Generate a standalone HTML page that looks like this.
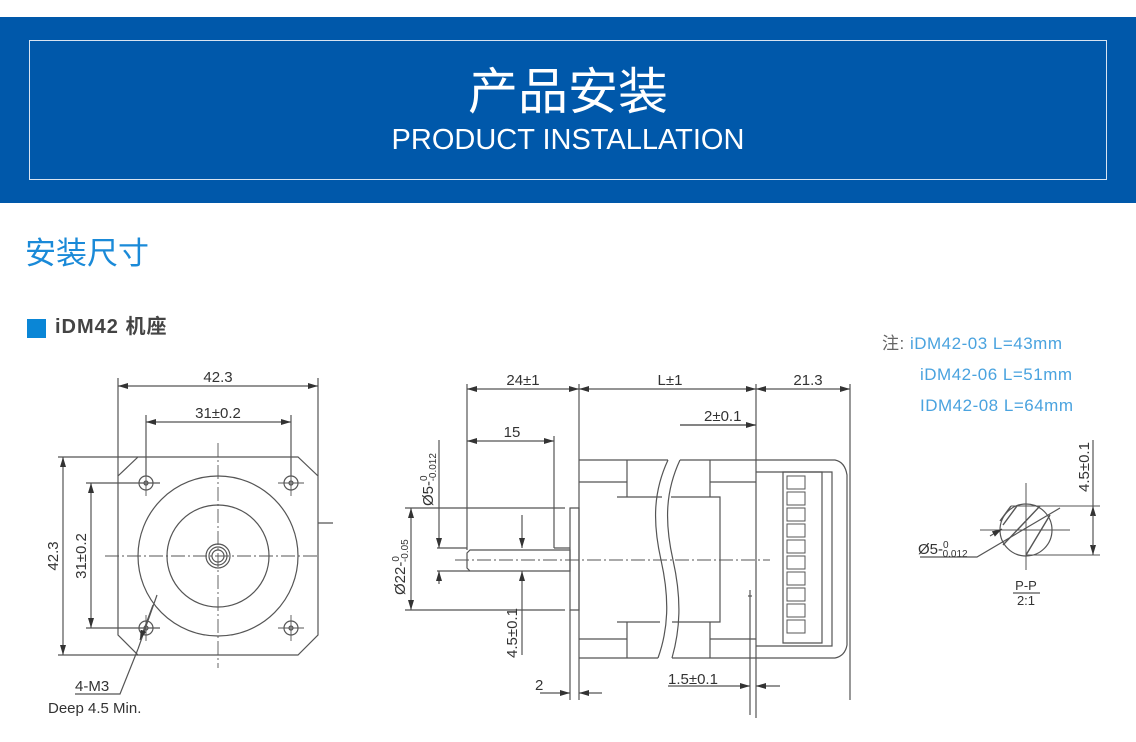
<!DOCTYPE html>
<html><head><meta charset="utf-8"><style>
html,body{margin:0;padding:0;background:#fff;}
body{width:1136px;height:742px;position:relative;overflow:hidden;font-family:"Liberation Sans","Noto Sans CJK SC",sans-serif;}
.band{position:absolute;left:0;top:17px;width:1136px;height:186px;background:#0058aa;}
.box{position:absolute;left:29px;top:40px;width:1076px;height:138px;border:1.5px solid #d8e4f2;}
.t1{position:absolute;left:0;width:1136px;top:62px;text-align:center;color:#fff;font-size:50px;line-height:60px;}
.t2{position:absolute;left:0;width:1136px;top:122px;text-align:center;color:#fff;font-size:29px;line-height:36px;}
.h{position:absolute;left:25px;top:233px;color:#1a8ad8;font-size:31px;line-height:42px;}
.sq{position:absolute;left:27px;top:319px;width:19px;height:19px;background:#0a86d6;}
.sub{position:absolute;left:55px;top:313px;color:#444;font-size:20px;line-height:28px;letter-spacing:1px;font-weight:bold;}
.note{position:absolute;left:882px;color:#4aa3df;font-size:17px;line-height:22px;letter-spacing:0.5px;}
.note b{font-weight:normal;color:#666;}
svg{position:absolute;left:0;top:0;}
</style></head><body>
<div class="band"></div><div class="box"></div>
<div class="t1">产品安装</div>
<div class="t2">PRODUCT INSTALLATION</div>
<div class="h">安装尺寸</div>
<div class="sq"></div><div class="sub">iDM42 机座</div>
<div class="note" style="top:333px"><b>注:</b> iDM42-03 L=43mm</div>
<div class="note" style="top:364px;left:920px">iDM42-06 L=51mm</div>
<div class="note" style="top:395px;left:920px">IDM42-08 L=64mm</div>
<svg width="1136" height="742" viewBox="0 0 1136 742">
<defs>
<marker id="a" viewBox="0 0 10 6" refX="10" refY="3" markerWidth="10" markerHeight="6" orient="auto-start-reverse" markerUnits="userSpaceOnUse"><path d="M0,0L10,3L0,6z" fill="#333"/></marker>
</defs>
<g stroke="#555" stroke-width="1.2" fill="none">
<!-- LEFT VIEW -->
<path d="M138,457H298L318,476V635L298,655H138L118,635V476Z"/>
<circle cx="218" cy="556" r="80"/>
<circle cx="218" cy="556" r="51"/>
<circle cx="218" cy="556" r="12"/><circle cx="218" cy="556" r="9"/><circle cx="218" cy="556" r="6"/>
<g>
<circle cx="146" cy="483" r="7"/><circle cx="146" cy="483" r="2"/>
<circle cx="291" cy="483" r="7"/><circle cx="291" cy="483" r="2"/>
<circle cx="146" cy="628" r="7"/><circle cx="146" cy="628" r="2"/>
<circle cx="291" cy="628" r="7"/><circle cx="291" cy="628" r="2"/>
<path d="M133,483h26M146,470v26M278,483h26M291,470v26M133,628h26M146,615v26M278,628h26M291,615v26" stroke-width="0.9"/>
</g>
<path d="M105,556H318M218,443V668" stroke-dasharray="14,3,2,3" stroke-width="0.9"/>
<path d="M118,378V476M318,378V476M146,415V476M291,415V476M58,457H138M58,655H138M86,483H160M86,628H160M318,523H333"/>
<path d="M118,386H318" marker-start="url(#a)" marker-end="url(#a)"/>
<path d="M146,422H291" marker-start="url(#a)" marker-end="url(#a)"/>
<path d="M63,457V655" marker-start="url(#a)" marker-end="url(#a)"/>
<path d="M91,483V628" marker-start="url(#a)" marker-end="url(#a)"/>
<path d="M157,595L138,649"/>
<path d="M75,694H120L138,649" />
<path d="M153,605L140,640" marker-end="url(#a)"/>
<!-- MIDDLE VIEW -->
<path d="M467,384V550M579,384V460M756,384V718M850,384V700M554,436V548M680,425H756"/>
<path d="M467,389H579" marker-start="url(#a)" marker-end="url(#a)"/>
<path d="M579,389H756" marker-start="url(#a)" marker-end="url(#a)"/>
<path d="M756,389H850" marker-start="url(#a)" marker-end="url(#a)"/>
<path d="M680,425H756" marker-end="url(#a)"/>
<path d="M467,441H554" marker-start="url(#a)" marker-end="url(#a)"/>
<!-- body -->
<path d="M579,460H668M680,460H756M579,658H658M672,658H756M579,460V658"/>
<path d="M668,460C654,490 652,520 661,560C670,600 668,630 658,658"/>
<path d="M680,460C666,490 664,520 673,560C682,600 680,630 672,658"/>
<path d="M627,460V497M627,622V658M710,460V497M710,622V658M579,482H627M710,482H756M579,639H627M710,639H756"/>
<path d="M617,497H662M671,497H720V622H672M660,622H617Z"/>
<path d="M570,508H579V610H570Z"/>
<path d="M470,550H570V571H470L467,568V553Z"/>
<path d="M554,548H570M405,508H565M405,610H565M437,548H467M437,571H470"/>
<path d="M455,560H770" stroke-dasharray="14,3,2,3" stroke-width="0.9"/>
<path d="M411,508V610" marker-start="url(#a)" marker-end="url(#a)"/>
<path d="M439,535V548" marker-end="url(#a)"/><path d="M439,584V571" marker-end="url(#a)"/>
<path d="M439,440V535"/>
<path d="M522,515V548" marker-end="url(#a)"/><path d="M522,655V571" marker-end="url(#a)"/>
<path d="M570,610V700M579,658V700"/>
<path d="M540,693H570" marker-end="url(#a)"/><path d="M602,693H579" marker-end="url(#a)"/>
<path d="M750,590V715"/>
<path d="M668,686H750" marker-end="url(#a)"/><path d="M780,686H756" marker-end="url(#a)"/>
<path d="M748,596h4"/>
<!-- connector -->
<path d="M756,460H835Q845,462 847,475V645Q845,656 835,658H756"/>
<path d="M756,472H832V646H756"/>
<path d="M783,472H822V643H783Z"/>
<g stroke-width="1">
<rect x="787" y="476" width="18" height="13"/><rect x="787" y="492" width="18" height="13"/>
<rect x="787" y="508" width="18" height="13"/><rect x="787" y="524" width="18" height="13"/>
<rect x="787" y="540" width="18" height="13"/><rect x="787" y="556" width="18" height="13"/>
<rect x="787" y="572" width="18" height="13"/><rect x="787" y="588" width="18" height="13"/>
<rect x="787" y="604" width="18" height="13"/><rect x="787" y="620" width="18" height="13"/>
</g>
<!-- RIGHT DETAIL -->
<circle cx="1026" cy="530" r="26"/>
<path d="M1011,506H1100M1026,555H1100M980,530H1070M1026,483V570" stroke-width="1"/>
<path d="M1011,506L1000,521M1040,506L1003,545M1050,515L1026,555M1017,506L1003,525" stroke-width="1.4"/>
<path d="M1093,440V506"/>
<path d="M1093,515V506" marker-end="url(#a)"/><path d="M1093,546V555" marker-end="url(#a)"/>
<path d="M1093,515V546"/>
<path d="M920,557H977L1060,508"/>
<path d="M990,536L1002,529" marker-end="url(#a)"/>
<path d="M1013,593H1040"/>
</g>
<g fill="#333" font-family="Liberation Sans, sans-serif" font-size="15">
<text x="218" y="382" text-anchor="middle">42.3</text>
<text x="218" y="418" text-anchor="middle">31±0.2</text>
<text transform="translate(58,556) rotate(-90)" text-anchor="middle">42.3</text>
<text transform="translate(86,556) rotate(-90)" text-anchor="middle">31±0.2</text>
<text x="75" y="691">4-M3</text>
<text x="48" y="713">Deep 4.5 Min.</text>
<text x="523" y="385" text-anchor="middle">24±1</text>
<text x="670" y="385" text-anchor="middle">L±1</text>
<text x="808" y="385" text-anchor="middle">21.3</text>
<text x="704" y="421">2±0.1</text>
<text x="512" y="437" text-anchor="middle">15</text>
<text transform="translate(405,595) rotate(-90)">Ø22-<tspan font-size="10" dy="-6">0</tspan><tspan font-size="10" dx="-6" dy="9">-0.05</tspan></text>
<text transform="translate(433,506) rotate(-90)">Ø5-<tspan font-size="10" dy="-6">0</tspan><tspan font-size="10" dx="-6" dy="9">-0.012</tspan></text>
<text transform="translate(517,658) rotate(-90)">4.5±0.1</text>
<text x="535" y="690">2</text>
<text x="668" y="684">1.5±0.1</text>
<text transform="translate(1089,492) rotate(-90)">4.5±0.1</text>
<text x="918" y="554">Ø5-<tspan font-size="10" dy="-6">0</tspan><tspan font-size="10" dx="-6" dy="9">0.012</tspan></text>
<text x="1026" y="590" text-anchor="middle" font-size="13">P-P</text>
<text x="1026" y="605" text-anchor="middle" font-size="13">2:1</text>
</g>
</svg>
</body></html>
